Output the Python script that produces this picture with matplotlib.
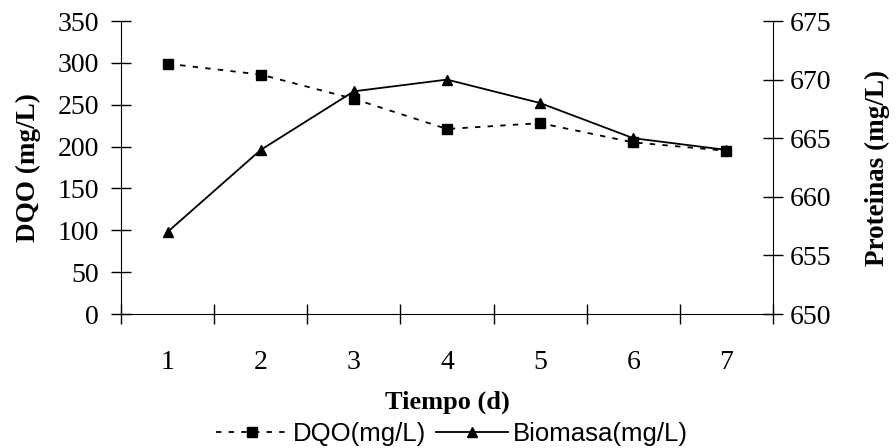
import numpy as np
import matplotlib.pyplot as plt

# DQO and biomasa over the run
dias = [1, 2, 3, 4, 5, 6, 7]
dqo = [299, 286, 257, 221, 228, 205, 195]
biomasa = [657, 664, 669, 670, 668, 665, 664]

serif = 'Liberation Serif'
sans = 'Liberation Sans'

fig = plt.figure(figsize=(8.96, 4.48), dpi=100)
ax = fig.add_axes([121 / 896, 1 - 314 / 448, (773 - 121) / 896, (314 - 21) / 448])
ax2 = ax.twinx()

l1, = ax.plot(dias, dqo, color='black', ls=(0, (3, 4)), lw=1.3,
              marker='s', ms=6.5, mfc='black', mec='black')
l2, = ax2.plot(dias, biomasa, color='black', ls='-', lw=1.3,
               marker='^', ms=6.5, mfc='black', mec='black')

ax.set_xlim(0.5, 7.5)
ax.set_ylim(0, 350)
ax.set_yticks(np.arange(0, 351, 50))
ax2.set_ylim(650, 675)
ax2.set_yticks(np.arange(650, 676, 5))

# category ticks sit between the days, labels at the centres
ax.set_xticks(dias)
ax.set_xticks(np.arange(0.5, 7.6, 1), minor=True)
ax.tick_params(axis='x', which='major', length=0, pad=26)
ax.tick_params(axis='x', which='minor', direction='inout', length=14, width=1)
ax.tick_params(axis='y', direction='inout', length=14, width=1, pad=9)
ax2.tick_params(axis='y', direction='inout', length=14, width=1, pad=5)

for a in (ax, ax2):
    a.spines['top'].set_visible(False)
    for lab in a.get_xticklabels() + a.get_yticklabels():
        lab.set_fontfamily(serif)
        lab.set_fontsize(20)
ax.spines['right'].set_visible(False)
ax2.spines['left'].set_visible(False)
ax2.spines['bottom'].set_visible(False)

ax.set_ylabel('DQO (mg/L)', fontfamily=serif, fontsize=19.5, fontweight='bold', labelpad=12)
ax2.set_ylabel('Proteinas (mg/L)', fontfamily=serif, fontsize=19.5, fontweight='bold', labelpad=24)
ax.set_xlabel('Tiempo (d)', fontfamily=serif, fontsize=19, fontweight='bold', labelpad=11)

fig.legend([l1, l2], ['DQO(mg/L)', 'Biomasa(mg/L)'], loc='center',
           bbox_to_anchor=(452 / 896, 1 - 434 / 448), ncol=2, frameon=False,
           prop={'family': sans, 'size': 18.5}, handlelength=2.8,
           handletextpad=0.2, columnspacing=0.4, borderpad=0)

fig.savefig('out.png', dpi=100)
